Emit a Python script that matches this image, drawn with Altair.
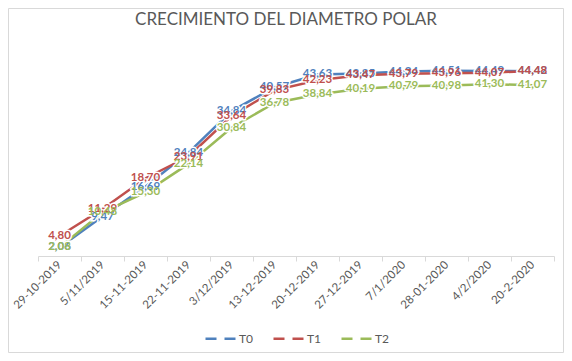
import altair as alt
import pandas as pd

dates = ["29-10-2019", "5/11/2019", "15-11-2019", "22-11-2019", "3/12/2019",
         "13-12-2019", "20-12-2019", "27-12-2019", "7/1/2020", "28-01-2020",
         "4/2/2020", "20-2-2020"]
t0 = [2.06, 9.47, 16.69, 24.84, 34.84, 40.57, 43.63, 43.85, 44.34, 44.51, 44.49, 44.42]
t1 = [4.80, 11.29, 18.70, 23.91, 33.64, 39.83, 42.23, 43.47, 43.79, 43.96, 44.07, 44.48]
t2 = [2.08, 10.48, 15.30, 22.14, 30.84, 36.78, 38.84, 40.19, 40.79, 40.98, 41.30, 41.07]
series = ["T0", "T1", "T2"]
colors = ["#4F81BD", "#C0504D", "#9BBB59"]
titulo = ["CRECIMIENTO DEL DIAMETRO POLAR"]

rows = []
for name, vals in zip(series, [t0, t1, t2]):
    for i, (d, v) in enumerate(zip(dates, vals)):
        rows.append({"fecha": d, "serie": name, "valor": v, "orden": i})
df = pd.DataFrame(rows)

W, H = 516, 208
FONT = "Lato"
GRAY = "#595959"

x = alt.X("fecha:N", sort=dates, title=None,
          scale=alt.Scale(paddingInner=0, paddingOuter=0),
          axis=alt.Axis(labelAngle=-45, labelAlign="right", labelBaseline="middle",
                        labelPadding=2, tickBand="extent", tickSize=5,
                        tickColor="#d9d9d9", domainColor="#d9d9d9",
                        labelColor=GRAY, labelFont=FONT, labelFontSize=11.5,
                        labelOverlap=False, grid=False))
y = alt.Y("valor:Q", scale=alt.Scale(domain=[0, 50], nice=False), axis=None)
color = alt.Color("serie:N", scale=alt.Scale(domain=series, range=colors),
                  legend=alt.Legend(title=None, orient="none", direction="horizontal",
                                    legendX=166, legendY=274,
                                    symbolType="stroke", symbolSize=900,
                                    symbolStrokeWidth=2.5, symbolDash=[11, 8],
                                    labelColor=GRAY, labelFont=FONT, labelFontSize=12,
                                    labelOffset=2, columnPadding=14))

base = alt.Chart(df)

lines = base.mark_line(strokeWidth=2.5).encode(x=x, y=y, color=color, detail="serie:N",
                                                order="orden:Q")

labels_calc = base.transform_calculate(
    etiqueta="replace(format(datum.valor, '.2f'), '.', ',')"
)
halo = labels_calc.mark_text(align="center", baseline="middle", font=FONT, fontSize=11.5,
                             stroke="white", strokeWidth=3, fill="white").encode(
    x=x, y=y, text="etiqueta:N")
texts = labels_calc.mark_text(align="center", baseline="middle", font=FONT,
                              fontSize=11.5, fontWeight="bold").encode(
    x=x, y=y, text="etiqueta:N", color=alt.Color("serie:N", legend=None,
                                                 scale=alt.Scale(domain=series, range=colors)))

border = alt.Chart(alt.Data(values=[{"a": 1}])).mark_rect(
    fill=None, stroke="#d9d9d9", strokeWidth=1).encode(
    x=alt.value(-29.5), x2=alt.value(W + 9.5), y=alt.value(-39.5), y2=alt.value(H + 96.5))

title = alt.Chart(pd.DataFrame({"t": titulo})).mark_text(
    align="center", baseline="middle", font=FONT, fontSize=17, color=GRAY).encode(
    x=alt.value(248), y=alt.value(-28), text="t:N")

chart = alt.layer(border, title, lines, halo, texts).properties(
    width=W, height=H,
    autosize=alt.AutoSizeParams(type="none"),
    padding={"left": 30, "top": 40, "right": 10, "bottom": 97},
).configure_view(stroke=None)

chart.save("out.html", embed_options={"renderer": "svg", "actions": False})
